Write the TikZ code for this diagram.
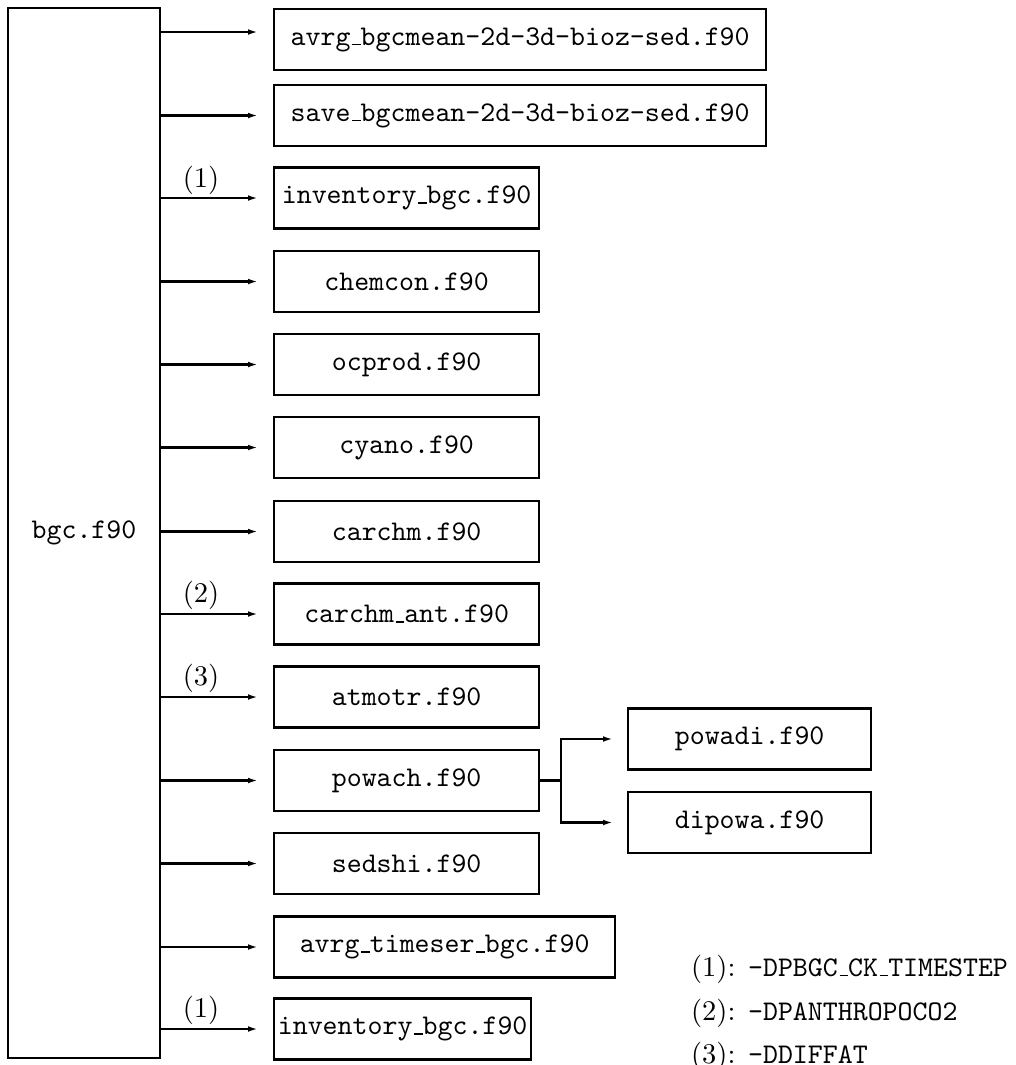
\documentclass[tikz,border=0pt]{standalone}
\usetikzlibrary{arrows.meta}
\newcommand\lowbar{\leavevmode\kern.06em\vbox{\hrule width.3em height 0.5pt}}
\begin{document}
\begin{tikzpicture}[x=0.351pt,y=-0.351pt, line width=0.8pt,
  file/.style={draw, rectangle, anchor=west, minimum height=61*0.351pt, inner sep=0pt, font=\ttfamily},
  wstd/.style={minimum width=265*0.351pt},
  arr/.style={-{Latex[length=3.5pt,width=2pt]}},
  flag/.style={font=\normalsize},
  legend/.style={anchor=base west, inner sep=0pt}]
\useasboundingbox (0,0) rectangle (1016,1065);
% main box
\node[draw, rectangle, minimum width=152*0.351pt, minimum height=1050*0.351pt, inner sep=0pt, font=\ttfamily] (main) at (84,533) {bgc.f90};
% called routines
\node[file, minimum width=492*0.351pt] (b1) at (273,39.5) {avrg\lowbar bgcmean-2d-3d-bioz-sed.f90};
\node[file, minimum width=492*0.351pt] (b2) at (273,115.5) {save\lowbar bgcmean-2d-3d-bioz-sed.f90};
\node[file, wstd] (b3) at (273,198) {inventory\lowbar bgc.f90};
\node[file, wstd] (b4) at (273,281.5) {chemcon.f90};
\node[file, wstd] (b5) at (273,364.5) {ocprod.f90};
\node[file, wstd] (b6) at (273,447.5) {cyano.f90};
\node[file, wstd] (b7) at (273,531.5) {carchm.f90};
\node[file, wstd] (b8) at (273,614) {carchm\lowbar ant.f90};
\node[file, wstd] (b9) at (273,697) {atmotr.f90};
\node[file, wstd] (b10) at (273,780.5) {powach.f90};
\node[file, wstd] (b11) at (273,863.5) {sedshi.f90};
\node[file, minimum width=341*0.351pt] (b12) at (273,947) {avrg\lowbar timeser\lowbar bgc.f90};
\node[file, minimum width=257*0.351pt] (b13) at (273,1029) {inventory\lowbar bgc.f90};
% sub-routines of powach
\node[file, minimum width=243*0.351pt] (pw) at (627,739) {powadi.f90};
\node[file, minimum width=243*0.351pt] (dp) at (627,822.5) {dipowa.f90};
% arrows from main
\coordinate (a1) at (258,32);
\draw[arr] (main.east |- a1) -- (a1);
\foreach \b in {b2,b3,b4,b5,b6,b7,b8,b9,b10,b11,b12,b13}{
  \draw[arr] (main.east |- \b.west) -- ([xshift=-15*0.351pt]\b.west);
}
% branch from powach
\coordinate (br) at (561,780.5);
\draw (b10.east) -- (br);
\draw[arr] (br) |- ([xshift=-14*0.351pt]pw.west);
\draw[arr] (br) |- ([xshift=-14*0.351pt]dp.west);
% flags
\node[flag] (f3) at (201,180) {$(1)$};
\node[flag] (f8) at (201,595) {$(2)$};
\node[flag] (f9) at (201,678) {$(3)$};
\node[flag] (f13) at (201,1010) {$(1)$};
% legend
\node[legend] (l1) at (690,976) {$(1)$: \texttt{-DPBGC\lowbar CK\lowbar TIMESTEP}};
\node[legend] (l2) at (690,1020) {$(2)$: \texttt{-DPANTHROPOCO2}};
\node[legend] (l3) at (690,1063) {$(3)$: \texttt{-DDIFFAT}};
\end{tikzpicture}
\end{document}
